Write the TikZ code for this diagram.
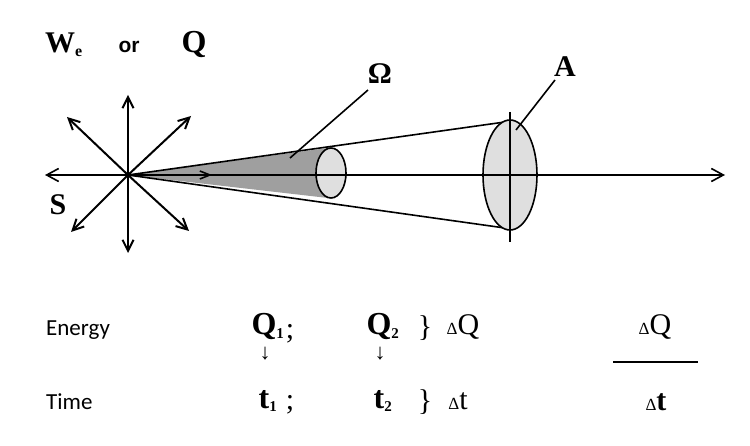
\documentclass[tikz,border=0pt]{standalone}
\usepackage{fontspec}
\setmainfont{Liberation Serif}
\newfontfamily\carl{Carlito}
\newfontfamily\arl{Liberation Sans}
\usetikzlibrary{arrows.meta}
\begin{document}
\begin{tikzpicture}[x=1pt,y=-1pt,
  ray/.style={-{Straight Barb[length=11pt,width=11pt]},line width=2pt},
  lbl/.style={inner sep=0pt,font=\fontsize{30}{30}\selectfont\bfseries},
  txt/.style={inner sep=0pt,font=\carl\fontsize{23}{23}\selectfont},
  eq/.style={inner sep=0pt,font=\fontsize{30}{30}\selectfont}]
\useasboundingbox (0,0) rectangle (750,446);
\coordinate (O) at (128,175);
\coordinate (At) at (512,121);
\coordinate (Ab) at (512,229);
\coordinate (It) at (328,148);
\coordinate (Ib) at (328,198);
% cone
\fill[gray!75] (O) -- (It) -- (Ib) -- cycle;
\draw[line width=1.6pt] (O) -- (At);
\draw[line width=1.6pt] (O) -- (Ab);
\draw[fill=gray!25,line width=1.6pt] (331,173) ellipse (15 and 25);
\draw[fill=gray!25,line width=1.6pt] (510,175) ellipse (27 and 55);
\coordinate (Vt) at (510,112);
\coordinate (Vb) at (510,242);
\draw[line width=1.6pt] (Vt) -- (Vb);
% axis
\coordinate (R) at (725,175);
\coordinate (L) at (45,175);
\draw[line width=1.6pt,-{Straight Barb[length=12pt,width=13pt]}] (O) -- (R);
\coordinate (m) at (212,175);
\draw[line width=1.6pt,-{Straight Barb[length=10pt,width=8pt]}] (O) -- (m);
\draw[line width=1.6pt,-{Straight Barb[length=12pt,width=13pt]}] (O) -- (L);
% rays
\coordinate (u) at (128,95);
\coordinate (d) at (128,253);
\coordinate (ul) at (67,117);
\coordinate (ur) at (191,116);
\coordinate (dl) at (71,232);
\coordinate (dr) at (189,231);
\foreach \p in {u,d,ul,ur,dl,dr} \draw[ray] (O) -- (\p);
% labels
\node[lbl] (We) at (64,45) {W\textsubscript{\fontsize{16}{16}\selectfont e}};
\node[inner sep=0pt,font=\arl\bfseries\fontsize{21}{21}\selectfont] (or) at (129,47) {or};
\node[lbl,font=\fontsize{32}{32}\selectfont\bfseries] (Qt) at (194,45) {Q};
\node[lbl] (S) at (58,205) {S};
\node[lbl,font=\fontsize{30}{30}\selectfont\bfseries] (Om) at (380,74) {Ω};
\node[lbl,font=\fontsize{30}{30}\selectfont\bfseries] (A) at (565,67) {A};
\coordinate (Op) at (290,158);
\coordinate (Ap) at (516,130);
\draw[line width=1.6pt] (368,90) -- (Op);
\draw[line width=1.6pt] (555,80) -- (Ap);
% bottom
\node[txt,anchor=west] (en) at (46,330) {Energy};
\node[txt,anchor=west] (ti) at (46,402) {Time};
\node[eq,font=\fontsize{32}{32}\selectfont\bfseries] (Q1) at (268,327) {Q\textsubscript{\fontsize{15}{15}\selectfont 1}};
\node[eq] (s1) at (290,334) {;};
\node[eq,font=\fontsize{32}{32}\selectfont\bfseries] (Q2) at (383,327) {Q\textsubscript{\fontsize{15}{15}\selectfont 2}};
\node[eq] (b1) at (425,328) {\}};
\node[eq] (dQ) at (463,327) {{\fontsize{17}{17}\selectfont Δ}Q};
\node[eq,font=\fontsize{22}{22}\selectfont] (a1) at (265,354) {↓};
\node[eq,font=\fontsize{22}{22}\selectfont] (a2) at (380,354) {↓};
\node[eq,font=\fontsize{32}{32}\selectfont\bfseries] (t1) at (268,401) {t\textsubscript{\fontsize{15}{15}\selectfont 1}};
\node[eq] (s2) at (290,405) {;};
\node[eq,font=\fontsize{32}{32}\selectfont\bfseries] (t2) at (383,401) {t\textsubscript{\fontsize{15}{15}\selectfont 2}};
\node[eq] (b2) at (425,402) {\}};
\node[eq] (dt) at (458,401) {{\fontsize{17}{17}\selectfont Δ}t};
\node[eq] (fQ) at (655,327) {{\fontsize{17}{17}\selectfont Δ}Q};
\node[eq,font=\fontsize{30}{30}\selectfont\bfseries] (ft) at (656,402) {{\mdseries\fontsize{17}{17}\selectfont Δ}t};
\coordinate (f1) at (613,362);
\coordinate (f2) at (698,362);
\draw[line width=2pt] (f1) -- (f2);
\end{tikzpicture}
\end{document}
